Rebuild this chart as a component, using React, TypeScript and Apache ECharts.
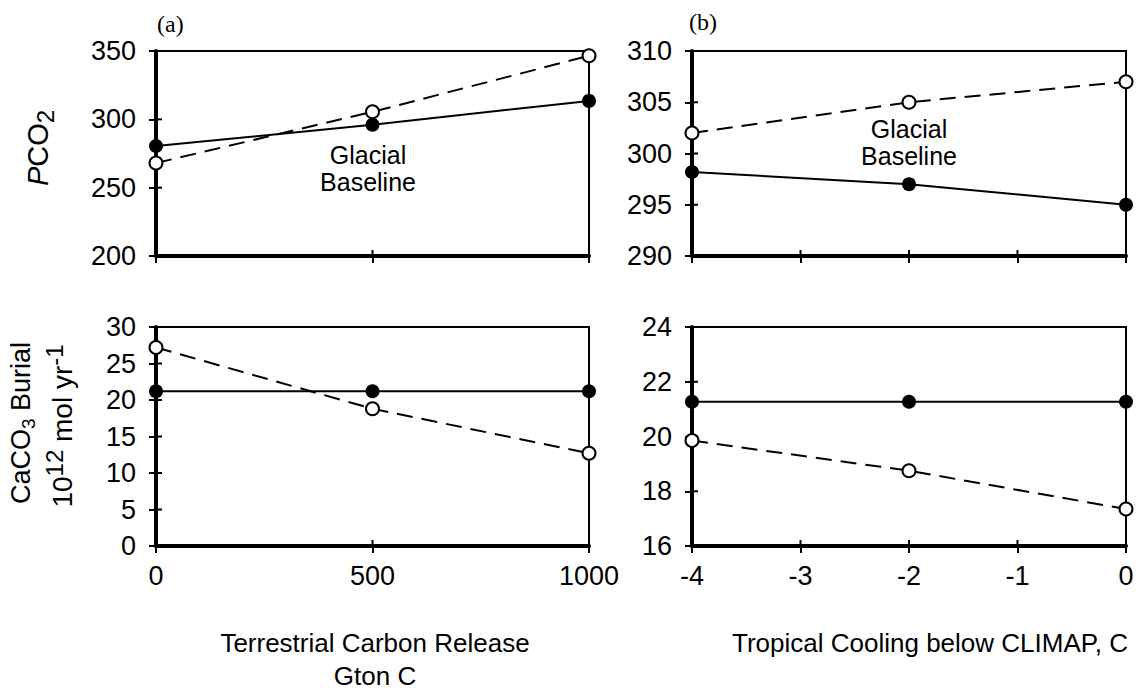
import React, { useEffect, useRef } from "react";
import * as echarts from "echarts";

// ---- data ----
const carbonX = [0, 500, 1000];
const coolingX = [-4, -2, 0];
const pco2CarbonFilled = [280.5, 296, 313.5];
const pco2CarbonOpen = [268, 305.5, 346.5];
const pco2CoolingOpen = [302, 305, 307];
const pco2CoolingFilled = [298.2, 297, 295];
const burialCarbonFilled = [21.2, 21.2, 21.2];
const burialCarbonOpen = [27.2, 18.8, 12.7];
const burialCoolingFilled = [21.27, 21.27, 21.27];
const burialCoolingOpen = [19.85, 18.75, 17.35];

// tick values
const carbonTicks = [0, 500, 1000];
const coolingTicks = [-4, -3, -2, -1, 0];
const pco2CarbonTicks = [200, 250, 300, 350];
const pco2CoolingTicks = [290, 295, 300, 305, 310];
const burialCarbonTicks = [0, 5, 10, 15, 20, 25, 30];
const burialCoolingTicks = [16, 18, 20, 22, 24];

const SANS = "'Liberation Sans', Arial, Helvetica, sans-serif";
const SERIF = "'Liberation Serif', 'Times New Roman', serif";

const zip = (xs: number[], ys: number[]) => xs.map((x, i) => [x, ys[i]]);

export default function App() {
  const ref = useRef<HTMLDivElement>(null);
  useEffect(() => {
    if (!ref.current) return;
    const chart = echarts.init(ref.current, null, { renderer: "svg" });

    const grids = [
      { left: 156, top: 51, width: 433, height: 205 },
      { left: 692, top: 51, width: 434, height: 205 },
      { left: 156, top: 327, width: 433, height: 219 },
      { left: 692, top: 327, width: 434, height: 219 },
    ].map((g) => ({ ...g, show: true, borderColor: "#000", borderWidth: 2, backgroundColor: "transparent" }));

    const xSpecs = [
      { ticks: carbonTicks, interval: 500, labels: false },
      { ticks: coolingTicks, interval: 1, labels: false },
      { ticks: carbonTicks, interval: 500, labels: true },
      { ticks: coolingTicks, interval: 1, labels: true },
    ];
    const ySpecs = [
      { ticks: pco2CarbonTicks, interval: 50 },
      { ticks: pco2CoolingTicks, interval: 5 },
      { ticks: burialCarbonTicks, interval: 5 },
      { ticks: burialCoolingTicks, interval: 2 },
    ];

    const fmt = (v: number) => String(v);
    const xAxes = xSpecs.map((s, i) => ({
      type: "value", gridIndex: i, position: "bottom",
      min: s.ticks[0], max: s.ticks[s.ticks.length - 1], interval: s.interval, z: 10,
      axisLine: { show: true, onZero: false, lineStyle: { color: "#000", width: 4 } },
      axisTick: { show: true, inside: false, length: 7, lineStyle: { color: "#000", width: 2 } },
      axisLabel: { show: s.labels, color: "#000", fontSize: 27, fontFamily: SANS, margin: 16, formatter: fmt },
      splitLine: { show: false },
    }));
    const yAxes = ySpecs.map((s, i) => ({
      type: "value", gridIndex: i, position: "left",
      min: s.ticks[0], max: s.ticks[s.ticks.length - 1], interval: s.interval, z: 10,
      axisLine: { show: true, onZero: false, lineStyle: { color: "#000", width: 4 } },
      axisTick: { show: true, inside: false, length: 7, lineStyle: { color: "#000", width: 2 } },
      axisLabel: { show: true, color: "#000", fontSize: 27, fontFamily: SANS, margin: 20, formatter: fmt },
      splitLine: { show: false },
    }));

    const filled = (idx: number, xs: number[], ys: number[]) => ({
      type: "line", xAxisIndex: idx, yAxisIndex: idx, data: zip(xs, ys), clip: false,
      symbol: "circle", symbolSize: 14, showSymbol: true,
      itemStyle: { color: "#000" },
      lineStyle: { color: "#000", width: 2 },
      z: 13,
    });
    const open = (idx: number, xs: number[], ys: number[]) => ({
      type: "line", xAxisIndex: idx, yAxisIndex: idx, data: zip(xs, ys), clip: false,
      symbol: "circle", symbolSize: 13, showSymbol: true,
      itemStyle: { color: "#fff", borderColor: "#000", borderWidth: 2 },
      lineStyle: { color: "#000", width: 2, type: [16, 9] },
      z: 14,
    });

    // inward halves of the crossing tick marks
    const innerTicks = (idx: number): any[] => {
      const xs = xSpecs[idx].ticks;
      const ys = ySpecs[idx].ticks;
      const xMin = xs[0];
      const yMin = ys[0];
      return [
        {
          type: "custom", xAxisIndex: idx, yAxisIndex: idx, clip: false, silent: true, z: 11,
          data: xs.map((v) => [v, yMin]),
          renderItem: (_p: any, api: any) => {
            const pt = api.coord([api.value(0), api.value(1)]);
            return { type: "line", shape: { x1: pt[0], y1: pt[1], x2: pt[0], y2: pt[1] - 6 }, style: { stroke: "#000", lineWidth: 2 } };
          },
        },
        {
          type: "custom", xAxisIndex: idx, yAxisIndex: idx, clip: false, silent: true, z: 11,
          data: ys.map((v) => [xMin, v]),
          renderItem: (_p: any, api: any) => {
            const pt = api.coord([api.value(0), api.value(1)]);
            return { type: "line", shape: { x1: pt[0], y1: pt[1], x2: pt[0] + 6, y2: pt[1] }, style: { stroke: "#000", lineWidth: 2 } };
          },
        },
      ];
    };

    const series: any[] = [
      filled(0, carbonX, pco2CarbonFilled),
      open(0, carbonX, pco2CarbonOpen),
      filled(1, coolingX, pco2CoolingFilled),
      open(1, coolingX, pco2CoolingOpen),
      filled(2, carbonX, burialCarbonFilled),
      open(2, carbonX, burialCarbonOpen),
      filled(3, coolingX, burialCoolingFilled),
      open(3, coolingX, burialCoolingOpen),
      ...innerTicks(0),
      ...innerTicks(1),
      ...innerTicks(2),
      ...innerTicks(3),
    ];

    const txt = (x: number, y: number, text: string, size: number, extra: any = {}) => ({
      type: "text", x, y,
      style: { text, fill: "#000", font: `${size}px ${SANS}`, align: "center", verticalAlign: "middle", ...extra },
    });

    const graphic: any[] = [
      { type: "text", x: 157, y: 24, style: { text: "(a)", fill: "#000", font: `24px ${SERIF}`, align: "left", verticalAlign: "middle" } },
      { type: "text", x: 689, y: 22, style: { text: "(b)", fill: "#000", font: `24px ${SERIF}`, align: "left", verticalAlign: "middle" } },
      txt(368, 168, "Glacial\nBaseline", 25, { lineHeight: 27 }),
      txt(909, 142, "Glacial\nBaseline", 25, { lineHeight: 27 }),
      txt(375, 643, "Terrestrial Carbon Release", 26),
      txt(375, 676, "Gton C", 26),
      txt(930, 643, "Tropical Cooling below CLIMAP, C", 26),
      {
        type: "text", x: 38, y: 148, rotation: Math.PI / 2,
        style: {
          text: "{i|P}{n|CO}{s|2}", fill: "#000", align: "center", verticalAlign: "middle",
          rich: {
            i: { fontFamily: SANS, fontSize: 29, fontStyle: "italic", lineHeight: 38, verticalAlign: "middle" },
            n: { fontFamily: SANS, fontSize: 29, lineHeight: 38, verticalAlign: "middle" },
            s: { fontFamily: SANS, fontSize: 24, lineHeight: 24, verticalAlign: "bottom" },
          },
        },
      },
      {
        type: "text", x: 21, y: 423, rotation: Math.PI / 2,
        style: {
          text: "{n|CaCO}{s|3}{n| Burial}", fill: "#000", align: "center", verticalAlign: "middle",
          rich: {
            n: { fontFamily: SANS, fontSize: 27, lineHeight: 34, verticalAlign: "middle" },
            s: { fontFamily: SANS, fontSize: 19, lineHeight: 19, verticalAlign: "bottom" },
          },
        },
      },
      {
        type: "text", x: 62, y: 426, rotation: Math.PI / 2,
        style: {
          text: "{n|10}{p|12}{n| mol yr}{p|-1}", fill: "#000", align: "center", verticalAlign: "middle",
          rich: {
            n: { fontFamily: SANS, fontSize: 28, lineHeight: 40, verticalAlign: "middle" },
            p: { fontFamily: SANS, fontSize: 24, lineHeight: 24, verticalAlign: "top" },
          },
        },
      },
    ];

    chart.setOption({
      animation: false,
      backgroundColor: "#fff",
      grid: grids,
      xAxis: xAxes,
      yAxis: yAxes,
      series,
      graphic,
    });
    return () => chart.dispose();
  }, []);
  return (
    <div
      ref={ref}
      style={{ position: "fixed", left: 0, top: 0, width: 1139, height: 693, background: "#fff" }}
    />
  );
}
